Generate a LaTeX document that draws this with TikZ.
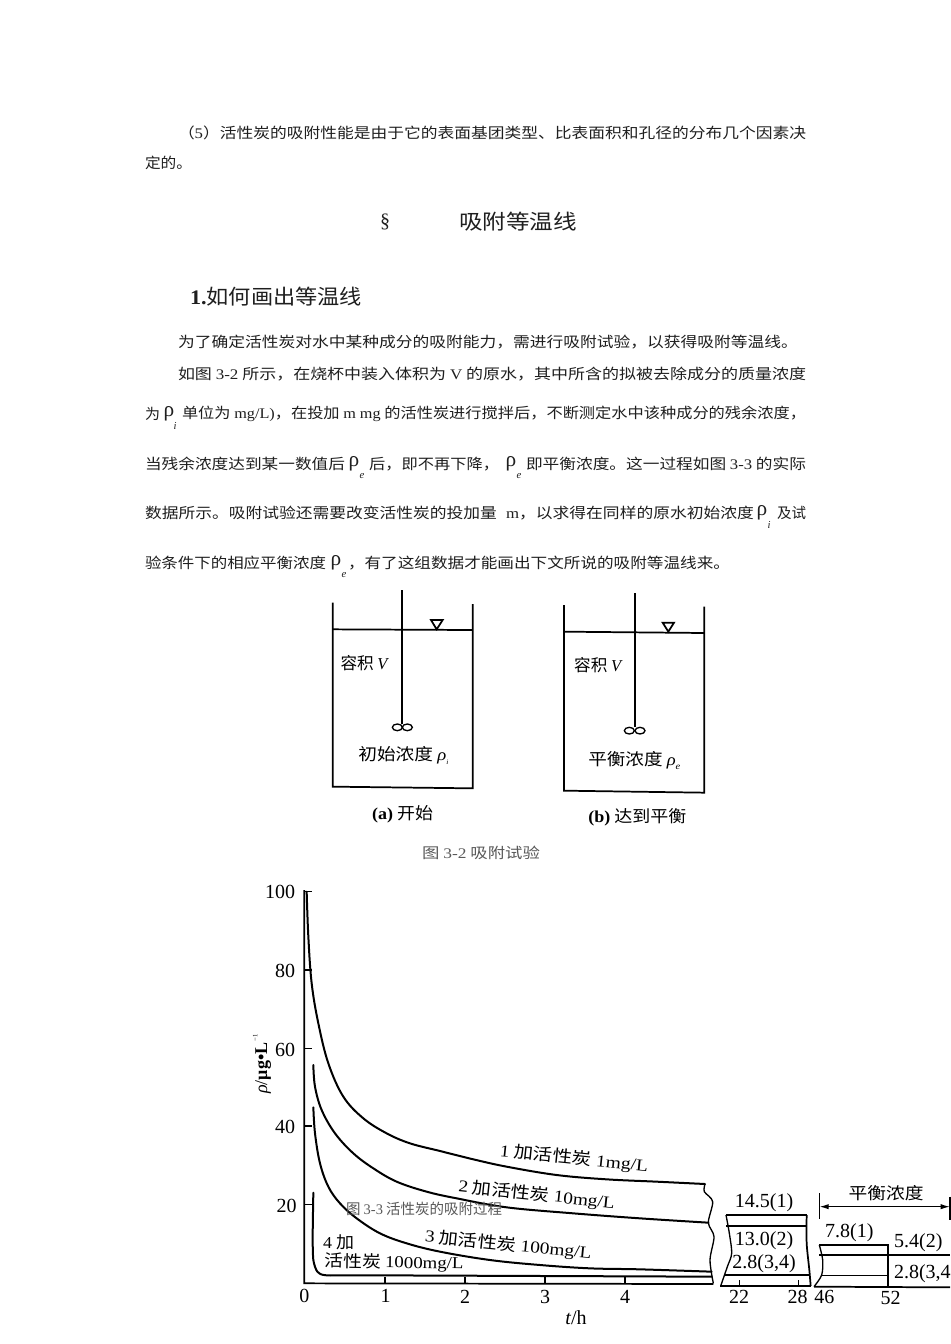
\documentclass[tikz,border=0pt]{standalone}
\usepackage{graphicx}
\usepackage{fontspec}
\usetikzlibrary{arrows.meta}
\setmainfont{Noto Sans CJK SC}
\newfontfamily\lat{Liberation Serif}
\newcommand{\LT}[1]{{\lat #1}}
\newdimen\pxu \pxu=0.75pt
\definecolor{ink}{gray}{0.12}
\definecolor{capt}{gray}{0.35}
\tikzset{
  txt/.style={inner sep=0pt,outer sep=0pt,text=ink,font=\fontsize{11}{13}\selectfont},
  sym/.style={inner sep=0pt,outer sep=0pt,text=ink,font=\fontsize{16}{18}\selectfont\lat},
  subs/.style={inner sep=0pt,outer sep=0pt,text=ink,font=\fontsize{8}{9}\selectfont\lat\itshape},
  head/.style={inner sep=0pt,outer sep=0pt,text=ink,font=\fontsize{15.5}{18}\selectfont},
  capn/.style={inner sep=0pt,outer sep=0pt,text=capt,font=\fontsize{11}{13}\selectfont},
  figt/.style={inner sep=0pt,outer sep=0pt,text=black,font=\fontsize{12.5}{14}\selectfont},
  fign/.style={inner sep=0pt,outer sep=0pt,text=black,font=\fontsize{15}{17}\selectfont\lat},
  wall/.style={draw=black,line width=1.3pt},
  thin line/.style={draw=black,line width=1pt},
  curve/.style={draw=black,line width=1.5pt,line join=round,line cap=round},
}
\newcommand{\fitline}[5]{\node[txt,anchor=west] (#1) at (#2,#3) {\resizebox{#4\pxu}{\height}{#5}};}
\newcommand{\fitlab}[6]{\node[figt,rotate=#4] (#1) at (#2,#3) {\resizebox{#5\pxu}{\height}{#6}};}
\begin{document}
\begin{tikzpicture}[x=0.75pt,y=-0.75pt]
\useasboundingbox (0,0) rectangle (950,1344);
\fill[white] (0,0) rectangle (950,1344);
% body text
\fitline{l1}{178}{133}{628}{（\LT{5}）活性炭的吸附性能是由于它的表面基团类型、比表面积和孔径的分布几个因素决}
\fitline{l2}{145}{163}{47}{定的。}
\node[head,font=\fontsize{15}{18}\selectfont\lat] (sec) at (385,222) {§};
\fitline{h1}{459}{222}{118}{\fontsize{15.5}{18}\selectfont 吸附等温线}
\fitline{h2}{190}{297}{172}{\fontsize{15.5}{18}\selectfont{\lat\bfseries 1.}如何画出等温线}
\fitline{l3}{178}{342}{620}{为了确定活性炭对水中某种成分的吸附能力，需进行吸附试验，以获得吸附等温线。}
\fitline{l4}{178}{374}{628}{如图 \LT{3-2} 所示，在烧杯中装入体积为 \LT{V} 的原水，其中所含的拟被去除成分的质量浓度}
% line 5
\fitline{l5a}{145}{414}{15}{为}
\node[sym] (r1) at (169,414) {ρ};
\node[subs] (s1) at (175,426) {i};
\fitline{l5b}{182}{414}{624}{单位为 \LT{mg/L)}，在投加 \LT{m mg} 的活性炭进行搅拌后，不断测定水中该种成分的残余浓度，}
% line 6
\fitline{l6a}{145}{464}{200}{当残余浓度达到某一数值后}
\node[sym] (r2) at (354,464) {ρ};
\node[subs] (s2) at (362,476) {e};
\fitline{l6b}{369}{464}{130}{后，即不再下降，}
\node[sym] (r3) at (511,464) {ρ};
\node[subs] (s3) at (519,476) {e};
\fitline{l6c}{526}{464}{280}{即平衡浓度。这一过程如图 \LT{3-3} 的实际}
% line 7
\fitline{l7a}{145}{513}{352}{数据所示。吸附试验还需要改变活性炭的投加量}
\fitline{l7b}{506}{513}{248}{\LT{m}，以求得在同样的原水初始浓度}
\node[sym] (r4) at (762,513) {ρ};
\node[subs] (s4) at (769,525) {i};
\fitline{l7c}{777}{513}{29}{及试}
% line 8
\fitline{l8a}{145}{563}{181}{验条件下的相应平衡浓度}
\node[sym] (r5) at (336,563) {ρ};
\node[subs] (s5) at (344,575) {e};
\fitline{l8b}{348}{563}{382}{，有了这组数据才能画出下文所说的吸附等温线来。}
% Fig 3-2
\begin{scope}[shift={(300,580)},x=0.25pt,y=-0.25pt]
  \draw[wall] (98,68) -- (98,620) -- (518,625) -- (518,72);
  \draw[wall] (98,148) -- (518,150);
  \draw[wall] (307,30) -- (307,432);
  \draw[thin line] (292,442) ellipse (15 and 10);
  \draw[thin line] (322,442) ellipse (15 and 10);
  \draw[wall] (393,120) -- (428,120) -- (410,148) -- cycle;
  \fitlab{va}{192}{248}{0}{47}{容积 {\lat\itshape V}}
  \fitlab{ca}{310}{525}{0}{90}{初始浓度 {\lat\itshape ρ}\raisebox{-3pt}{\tiny\lat\itshape i}}
  \fitlab{ta}{308}{703}{0}{61}{{\lat\bfseries (a)} 开始}
  \draw[wall] (792,75) -- (792,632) -- (1213,638) -- (1213,80);
  \draw[wall] (792,155) -- (1213,159);
  \draw[wall] (1005,40) -- (1005,442);
  \draw[thin line] (988,452) ellipse (15 and 10);
  \draw[thin line] (1020,452) ellipse (15 and 10);
  \draw[wall] (1088,128) -- (1122,128) -- (1105,155) -- cycle;
  \fitlab{vb}{893}{255}{0}{47}{容积 {\lat\itshape V}}
  \fitlab{cb}{1003}{540}{0}{92}{平衡浓度 {\lat\itshape ρ}\raisebox{-3pt}{\scriptsize\lat\itshape e}}
  \fitlab{tb}{1012}{712}{0}{98}{{\lat\bfseries (b)} 达到平衡}
\end{scope}
\node[capn] (c32) at (481,853) {\resizebox{118\pxu}{\height}{图 \LT{3-2} 吸附试验}};
% Fig 3-3 main
\begin{scope}[shift={(240,870)},x=0.25pt,y=-0.25pt]
  \draw[wall] (193,60) -- (193,1240) -- (1420,1242);
  \foreach \yy in {65,300,535,768,1003} \draw[thin line] (193,\yy) -- (216,\yy);
  \foreach \xx in {435,675,915,1155} \draw[thin line] (\xx,1240) -- (\xx,1222);
  \draw[curve] plot[smooth,tension=0.6] coordinates {(200,65)(205,200)(215,340)(235,460)(265,580)(310,680)(370,745)(440,790)(510,820)(600,843)(700,868)(800,890)(950,915)(1100,928)(1250,935)(1395,942)};
  \draw[curve] plot[smooth,tension=0.6] coordinates {(220,585)(225,650)(245,720)(285,790)(340,850)(400,895)(470,935)(560,965)(650,985)(800,1012)(1000,1030)(1200,1045)(1405,1058)};
  \draw[curve] plot[smooth,tension=0.6] coordinates {(220,712)(225,790)(240,880)(265,950)(300,1000)(350,1045)(420,1090)(500,1120)(600,1145)(750,1170)(900,1185)(1050,1195)(1200,1198)(1415,1205)};
  \draw[curve] plot[smooth,tension=0.4] coordinates {(220,968)(218,1100)(220,1170)(232,1205)(260,1216)(400,1216)(1415,1220)};
  \draw[thin line] plot[smooth,tension=0.5] coordinates {(1395,942)(1393,965)(1418,995)(1405,1058)(1422,1100)(1410,1170)(1420,1240)};
  \node[fign] (y100) at (120,65) {100};
  \node[fign] (y80) at (135,302) {80};
  \node[fign] (y60) at (135,540) {60};
  \node[fign] (y40) at (135,772) {40};
  \node[fign] (y20) at (140,1008) {20};
  \node[fign] (x0) at (193,1278) {0};
  \node[fign] (x1) at (437,1278) {1};
  \node[fign] (x2) at (675,1280) {2};
  \node[fign] (x3) at (915,1282) {3};
  \node[fign] (x4) at (1155,1282) {4};
  \node[fign] (tlab) at (1008,1342) {\itshape t\upshape/h};
  \node[fign,font=\fontsize{13.5}{15}\selectfont\lat,rotate=90] (ylab) at (66,582) {{\itshape ρ}/{\bfseries μg•L}\raisebox{1.2ex}{\tiny\,−1}};
  \fitlab{k1}{1002}{866}{-5.8}{149}{{\lat 1} 加活性炭 {\lat 1mg/L}}
  \fitlab{k2}{890}{975}{-6}{157}{{\lat 2} 加活性炭 {\lat 10mg/L}}
  \fitlab{k3}{805}{1125}{-5.7}{167}{{\lat 3} 加活性炭 {\lat 100mg/L}}
  \fitlab{k4a}{296}{1118}{0}{31}{{\lat 4} 加}
  \fitlab{k4b}{462}{1178}{-1}{139}{活性炭 {\lat 1000mg/L}}
\end{scope}
\node[capn] (c33) at (424,1209) {\resizebox{156\pxu}{\height}{图 \LT{3-3} 活性炭的吸附过程}};
% right panels
\begin{scope}[shift={(690,1160)},x=0.25pt,y=-0.25pt]
  \draw[wall] (108,165) -- (350,165);
  \draw[wall] (108,198) -- (350,198);
  \draw[thin line] plot[smooth,tension=0.5] coordinates {(108,165)(118,220)(125,280)(112,320)(92,378)};
  \draw[wall] plot[smooth,tension=0.5] coordinates {(350,165)(350,250)(358,330)(362,378)};
  \draw[wall] (90,378) -- (362,378);
  \draw[wall] (105,345) -- (360,345);
  \draw[thin line] (148,378) -- (148,360);
  \draw[thin line] (325,378) -- (325,360);
  \draw[wall] (388,255) -- (595,255) -- (595,380);
  \draw[thin line] (388,285) -- (780,285);
  \draw[thin line] (395,347) -- (595,347);
  \draw[thin line] plot[smooth,tension=0.5] coordinates {(388,255)(398,300)(395,345)(372,380)};
  \draw[wall] (372,380) -- (780,382);
  \coordinate (al) at (388,140);
  \coordinate (ar) at (780,140);
  \coordinate (am) at (600,140);
  \draw[thin line] (388,100) -- (388,178);
  \draw[thin line] (780,110) -- (780,180);
  \draw[thin line,-{Latex[length=7pt,width=4pt]}] (am) -- (al);
  \draw[thin line,-{Latex[length=7pt,width=4pt]}] (am) -- (ar);
  \fitlab{pj}{588}{100}{0}{75}{平衡浓度}
  \node[fign] (n145) at (222,128) {14.5(1)};
  \node[fign] (n130) at (222,243) {13.0(2)};
  \node[fign] (n28a) at (222,310) {2.8(3,4)};
  \node[fign] (n22) at (147,412) {22};
  \node[fign] (n28) at (323,412) {28};
  \node[fign] (n46) at (403,412) {46};
  \node[fign] (n52) at (602,415) {52};
  \node[fign] (n78) at (478,217) {7.8(1)};
  \node[fign] (n54) at (685,248) {5.4(2)};
  \node[fign,anchor=west] (n28b) at (612,340) {2.8(3,4)};
\end{scope}
\end{tikzpicture}
\end{document}
